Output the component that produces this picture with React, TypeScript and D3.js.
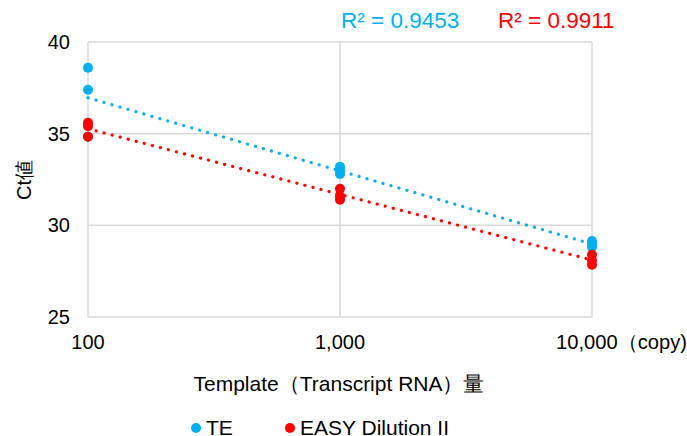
import React from "react";
import * as d3 from "d3";

const copies = [100, 1000, 10000];
const teValues = [
  [38.6, 37.4, 34.83],
  [33.2, 33.0, 32.8],
  [29.15, 28.95, 28.8],
];
const easyValues = [
  [35.6, 35.4, 34.83],
  [32.0, 31.6, 31.4],
  [28.4, 28.1, 27.85],
];
const yTicks = [25, 30, 35, 40];
const xTickLabels = ["100", "1,000", "10,000（copy)"];
const seriesNames = ["TE", "EASY Dilution II"];
const r2Labels = ["R² = 0.9453", "R² = 0.9911"];
const colors = ["#00B0F0", "#FF0000"];

const W = 687, H = 436;
const left = 88, right = 592, top = 42, bottom = 317;
const font = "Liberation Sans, Arial, sans-serif";

function fit(vals: number[][]) {
  const pts: [number, number][] = [];
  vals.forEach((arr, i) => arr.forEach((v) => pts.push([Math.log10(copies[i]), v])));
  const mx = d3.mean(pts, (p) => p[0])!;
  const my = d3.mean(pts, (p) => p[1])!;
  const sxy = d3.sum(pts, (p) => (p[0] - mx) * (p[1] - my));
  const sxx = d3.sum(pts, (p) => (p[0] - mx) ** 2);
  const b = sxy / sxx;
  const a = my - b * mx;
  return (x: number) => a + b * Math.log10(x);
}

export default function App() {
  const x = d3.scaleLog().domain([100, 10000]).range([left, right]);
  const y = d3.scaleLinear().domain([25, 40]).range([bottom, top]);
  const series = [teValues, easyValues];

  return (
    <svg width={W} height={H} style={{ position: "absolute", left: 0, top: 0, background: "#fff" }}>
      {yTicks.map((t) => (
        <line key={"gy" + t} x1={left} x2={right} y1={y(t)} y2={y(t)} stroke="#d9d9d9" strokeWidth={1.5} />
      ))}
      {copies.map((c) => (
        <line key={"gx" + c} x1={x(c)} x2={x(c)} y1={top} y2={bottom} stroke="#d9d9d9" strokeWidth={1.5} />
      ))}
      {yTicks.map((t) => (
        <text key={"ty" + t} x={70} y={y(t)} dy="0.35em" textAnchor="end" fontFamily={font} fontSize={20} fill="#000">
          {t}
        </text>
      ))}
      {copies.map((c, i) =>
        i === 2 ? (
          <text
            key={"tx" + c}
            x={x(c) - 36}
            y={349}
            textAnchor="start"
            fontFamily={font}
            fontSize={20}
            fill="#000"
            textLength={131}
            lengthAdjust="spacingAndGlyphs"
          >
            {xTickLabels[i]}
          </text>
        ) : (
          <text key={"tx" + c} x={x(c)} y={349} textAnchor="middle" fontFamily={font} fontSize={20} fill="#000">
            {xTickLabels[i]}
          </text>
        )
      )}
      <text x={0} y={0} transform="translate(31,180) rotate(-90)" textAnchor="middle" fontFamily={font} fontSize={20} fill="#000">
        Ct値
      </text>
      <text x={339} y={391} textAnchor="middle" fontFamily={font} fontSize={21} fill="#000">
        Template（Transcript RNA）量
      </text>
      {series.map((vals, si) => {
        const f = fit(vals);
        return (
          <path
            key={"tl" + si}
            d={
              d3
                .line<number>()
                .x((d) => x(d))
                .y((d) => y(f(d)))([100, 10000]) || ""
            }
            stroke={colors[si]}
            strokeWidth={3.2}
            strokeDasharray="0.1 8.2"
            strokeLinecap="round"
            fill="none"
          />
        );
      })}
      {series.map((vals, si) =>
        vals.map((arr, ci) =>
          arr.map((v, k) => (
            <circle key={`p${si}-${ci}-${k}`} cx={x(copies[ci])} cy={y(v)} r={5} fill={colors[si]} />
          ))
        )
      )}
      <text x={341} y={28} fontFamily={font} fontSize={22.5} fill={colors[0]}>
        {r2Labels[0]}
      </text>
      <text x={498} y={28} fontFamily={font} fontSize={22.5} fill={colors[1]}>
        {r2Labels[1]}
      </text>
      {seriesNames.map((n, i) => {
        const lx = i === 0 ? 196 : 290;
        return (
          <g key={"lg" + i}>
            <circle cx={lx} cy={428} r={5} fill={colors[i]} />
            <text x={lx + 10} y={435} fontFamily={font} fontSize={21} fill="#000">
              {n}
            </text>
          </g>
        );
      })}
    </svg>
  );
}
